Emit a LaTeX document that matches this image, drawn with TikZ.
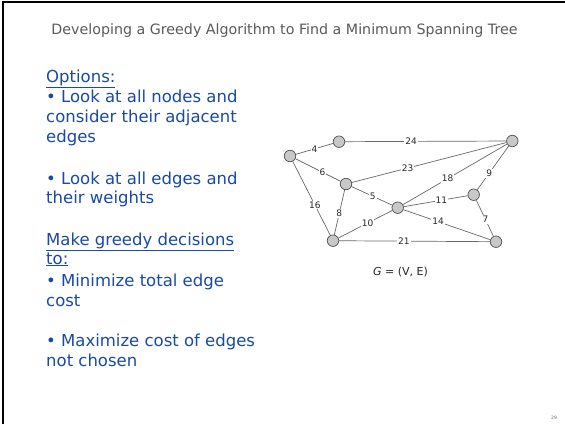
\documentclass[tikz,border=0pt]{standalone}
\usepackage{fontspec}
\setmainfont{DejaVu Sans}
\definecolor{txtblue}{RGB}{24,74,166}
\definecolor{titlegray}{RGB}{90,90,90}
\definecolor{nodefill}{RGB}{200,200,200}
\definecolor{nodeline}{RGB}{80,80,80}
\definecolor{edgegray}{RGB}{105,105,105}
\definecolor{labgray}{RGB}{40,40,40}
\begin{document}
\begin{tikzpicture}[x=1pt,y=-1pt,
  vtx/.style={circle,draw=nodeline,fill=nodefill,line width=0.7pt,minimum size=11.5pt,inner sep=0pt},
  edge/.style={draw=edgegray,line width=0.7pt},
  wlab/.style={fill=white,inner sep=1pt,font=\fontsize{9}{10}\selectfont,text=labgray},
  bodyline/.style={anchor=base west,inner sep=0pt,text=txtblue,font=\fontsize{16.5}{18}\selectfont}]
\useasboundingbox (0,0) rectangle (565,424);
\fill[white] (0,0) rectangle (565,424);
\draw[line width=2.2pt] (3,424) -- (3,2.1) -- (565,2.1);
% title
\node[text=titlegray,inner sep=0pt] (title) at (284.5,31) {\resizebox{466pt}{!}{Developing a Greedy Algorithm to Find a Minimum Spanning Tree}};
% left text
\node[bodyline] (l1) at (46,82) {\underline{Options:}};
\node[bodyline] (l2) at (46,102) {• Look at all nodes and};
\node[bodyline] (l3) at (46,122) {consider their adjacent};
\node[bodyline] (l4) at (46,142) {edges};
\node[bodyline] (l5) at (46,184) {• Look at all edges and};
\node[bodyline] (l6) at (46,203) {their weights};
\node[bodyline] (l7) at (46,245) {\underline{Make greedy decisions}};
\node[bodyline] (l8) at (46,264) {\underline{to:}};
\node[bodyline] (l9) at (46,286) {• Minimize total edge};
\node[bodyline] (l10) at (46,306) {cost};
\node[bodyline] (l11) at (46,346) {• Maximize cost of edges};
\node[bodyline] (l12) at (46,366) {not chosen};
% graph vertices
\node[vtx] (A) at (290,156) {};
\node[vtx] (B) at (339,141.7) {};
\node[vtx] (C) at (512.3,141) {};
\node[vtx] (D) at (346,184) {};
\node[vtx] (E) at (397.7,207.7) {};
\node[vtx] (F) at (473.7,194.7) {};
\node[vtx] (G) at (333,240.7) {};
\node[vtx] (H) at (496,241.7) {};
% edges
\path[edge] (A) -- node[wlab,pos=0.5] {4} (B);
\path[edge] (B) -- node[wlab,pos=0.41] {24} (C);
\path[edge] (A) -- node[wlab,pos=0.6] {6} (D);
\path[edge] (A) -- node[wlab,pos=0.59] {16} (G);
\path[edge] (D) -- node[wlab,pos=0.36] {23} (C);
\path[edge] (D) -- node[wlab,pos=0.52] {5} (E);
\path[edge] (D) -- node[wlab,pos=0.53] {8} (G);
\path[edge] (E) -- node[wlab,pos=0.43] {18} (C);
\path[edge] (C) -- node[wlab,pos=0.62] {9} (F);
\path[edge] (E) -- node[wlab,pos=0.59] {11} (F);
\path[edge] (F) -- node[wlab,pos=0.54] {7} (H);
\path[edge] (E) -- node[wlab,pos=0.4] {14} (H);
\path[edge] (E) -- node[wlab,pos=0.46] {10} (G);
\path[edge] (G) -- node[wlab,pos=0.43] {21} (H);
% caption
\node[inner sep=0pt,font=\fontsize{11}{12}\selectfont,text=black!85] (cap) at (400.5,272) {\textit{G} = (V, E)};
% page number
\node[inner sep=0pt,font=\fontsize{4.5}{5}\selectfont,text=black!60] (pg) at (554,418) {29};
\end{tikzpicture}
\end{document}
